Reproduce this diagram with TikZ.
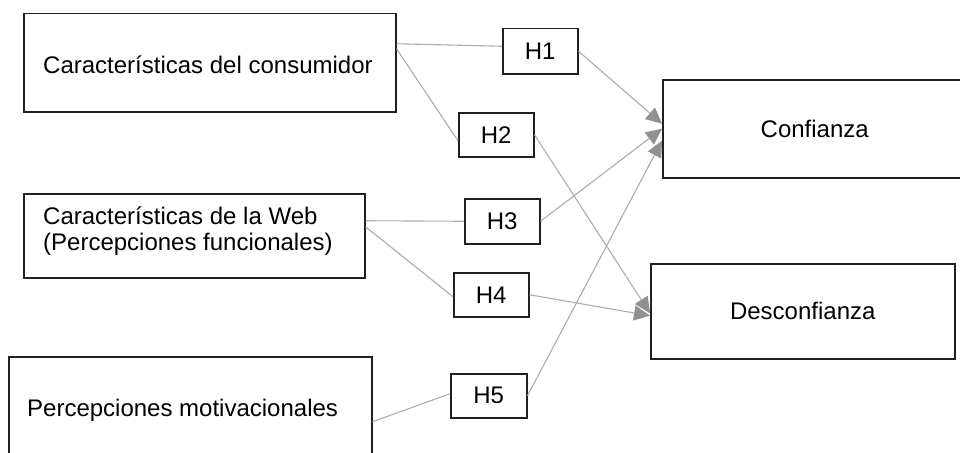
\documentclass[tikz,border=0pt]{standalone}
\usepackage{fontspec}
\setmainfont{Liberation Sans}
\usetikzlibrary{arrows.meta}
\definecolor{conncol}{HTML}{ADADAD}
\definecolor{tipcol}{HTML}{919191}
\definecolor{edgecol}{HTML}{202020}
\begin{document}
\begin{tikzpicture}[x=1pt,y=-1pt,
  box/.style={draw=edgecol, line width=1.5pt, fill=white, inner sep=0pt, anchor=north west,
              font=\fontsize{24}{26}\selectfont},
  lbl/.style={font=\fontsize{24}{26}\selectfont, inner sep=0pt, text=black, anchor=base west},
  conn/.style={draw=conncol, line width=1.1pt},
  arr/.style={conn, -{Triangle[length=16pt,width=15pt,fill=tipcol,color=tipcol]}},
]
\useasboundingbox (0,0) rectangle (960,452);
\clip (0,0) rectangle (960,452);
\fill[white] (0,0) rectangle (960,452);

% main boxes
\node[box, minimum width=372pt, minimum height=98pt] (b1) at (23,13) {};
\node[box, minimum width=341pt, minimum height=84pt] (b2) at (23,193) {};
\node[box, minimum width=363pt, minimum height=130pt] (b3) at (8,356) {};
\node[box, minimum width=304pt, minimum height=98pt] (conf) at (662,79) {Confianza};
\node[box, minimum width=304pt, minimum height=95pt] (desc) at (650,263) {Desconfianza};

% texts of left boxes
\node[lbl] (t1) at (43,74) {Características del consumidor};
\node[lbl] (t2a) at (43,224) {Características de la Web};
\node[lbl] (t2b) at (43,250) {(Percepciones funcionales)};
\node[lbl] (t3) at (27,416) {Percepciones motivacionales};

% hypothesis boxes
\node[box, minimum width=75pt, minimum height=45pt] (h1) at (502,28) {H1};
\node[box, minimum width=75pt, minimum height=44pt] (h2) at (458,112) {H2};
\node[box, minimum width=75pt, minimum height=45pt] (h3) at (464,198) {H3};
\node[box, minimum width=75pt, minimum height=44pt] (h4) at (453,272) {H4};
\node[box, minimum width=76pt, minimum height=44pt] (h5) at (450,373) {H5};

% connectors
\draw[conn] ([yshift=19pt]b1.east) -- ([yshift=5pt]h1.west);
\draw[conn] ([yshift=14pt]b1.east) -- ([yshift=-6pt]h2.west);
\draw[conn] ([yshift=15pt]b2.east) -- (h3.west);
\draw[conn] ([yshift=9pt]b2.east) -- ([yshift=-2pt]h4.west);
\draw[conn] (b3.east) -- ([yshift=2pt]h5.west);

\draw[arr] (h1.east) -- ([yshift=5pt]conf.west);
\draw[arr] (h2.east) -- ([yshift=-2pt]desc.west);
\draw[arr] (h3.east) -- (conf.west);
\draw[arr] (h4.east) -- ([yshift=-4.5pt]desc.west);
\draw[arr] (h5.east) -- ([yshift=-12pt]conf.west);
\end{tikzpicture}
\end{document}
